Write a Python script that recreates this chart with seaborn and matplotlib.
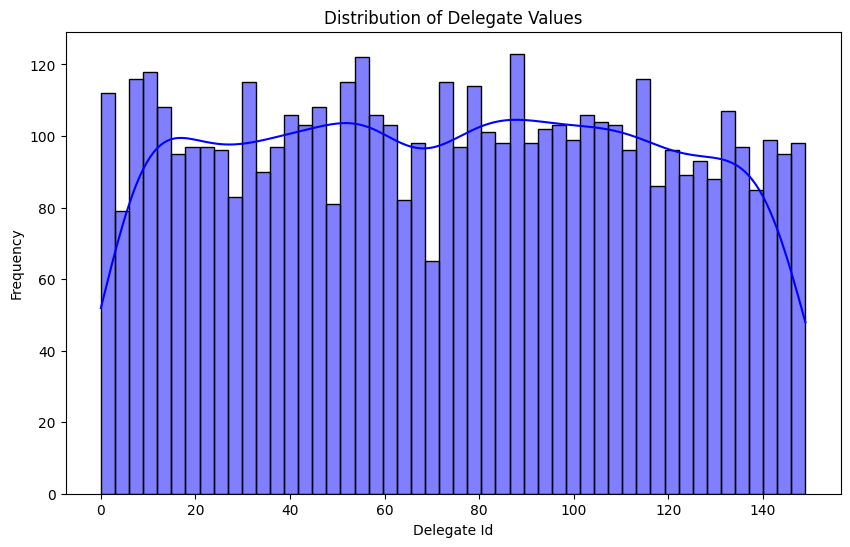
import matplotlib
matplotlib.use("Agg")
import matplotlib.pyplot as plt
import numpy as np
import seaborn as sns

# 50 bins over delegate ids 0..149, counts
id_min = 0
id_max = 149
bin_counts = [112, 79, 116, 118, 108, 95, 97, 97, 96, 83,
              115, 90, 97, 106, 103, 108, 81, 115, 122, 106,
              103, 82, 98, 65, 115, 97, 114, 101, 98, 123,
              98, 102, 103, 99, 106, 104, 103, 96, 116, 86,
              96, 89, 93, 88, 107, 97, 85, 99, 95, 98]

n_bins = len(bin_counts)
edges = np.linspace(id_min, id_max, n_bins + 1)
centers = (edges[:-1] + edges[1:]) / 2

fig, ax = plt.subplots(figsize=(10, 6))
sns.histplot(x=centers, weights=bin_counts, bins=n_bins, binrange=(id_min, id_max),
             kde=True, color="blue", alpha=0.5, edgecolor="black",
             kde_kws=dict(bw_adjust=0.4, cut=3, clip=(id_min, id_max)), ax=ax)

ax.set_title("Distribution of Delegate Values")
ax.set_xlabel("Delegate Id")
ax.set_ylabel("Frequency")

plt.savefig("out.png", dpi=100, bbox_inches="tight")
